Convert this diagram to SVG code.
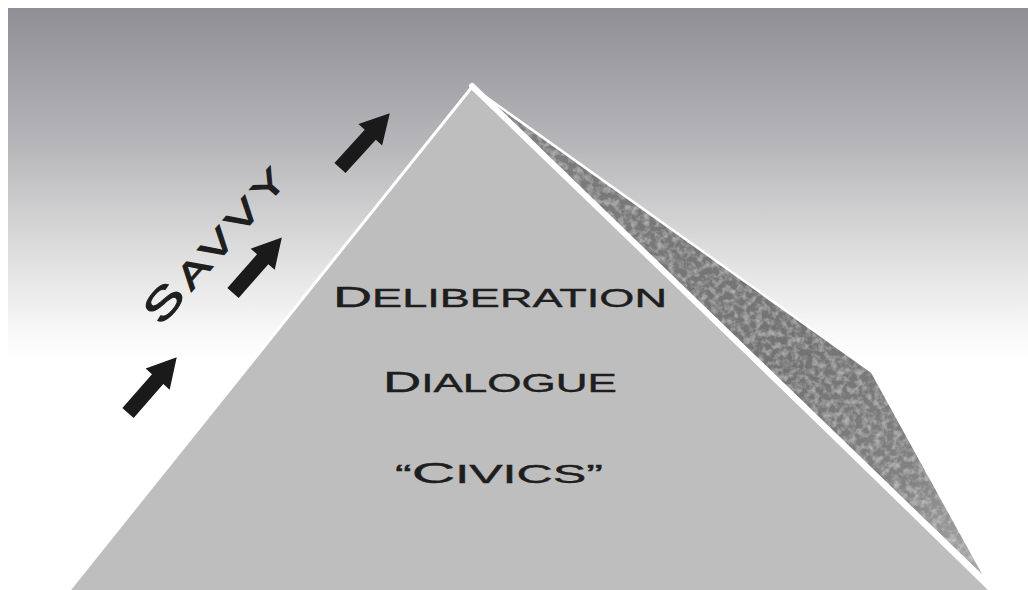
<svg xmlns="http://www.w3.org/2000/svg" width="1028" height="590" viewBox="0 0 1028 590">
<defs>
<linearGradient id="sky" gradientUnits="userSpaceOnUse" x1="0" y1="8" x2="0" y2="360">
<stop offset="0" stop-color="#8f8e94"/>
<stop offset="0.4" stop-color="#b8b8bb"/>
<stop offset="0.68" stop-color="#dcdcdc"/>
<stop offset="0.92" stop-color="#f8f8f8"/>
<stop offset="1" stop-color="#ffffff"/>
</linearGradient>
<linearGradient id="faceGrad" gradientUnits="userSpaceOnUse" x1="520" y1="120" x2="990" y2="585">
<stop offset="0" stop-color="#7c7c7c"/>
<stop offset="0.55" stop-color="#727272"/>
<stop offset="0.8" stop-color="#828282"/>
<stop offset="1" stop-color="#acacac"/>
</linearGradient>
<filter id="grain" x="0" y="0" width="1" height="1">
<feTurbulence type="fractalNoise" baseFrequency="0.16" numOctaves="3" seed="5" result="t"/>
<feColorMatrix in="t" type="matrix" values="0 0 0 0 1  0 0 0 0 1  0 0 0 0 1  0.7 0 0 0 -0.28" result="d"/>
<feComposite in="d" in2="SourceGraphic" operator="in" result="dm"/>
<feMerge><feMergeNode in="SourceGraphic"/><feMergeNode in="dm"/></feMerge>
</filter>
<path id="arrow" d="M0,-7.5 L45,-7.5 L45,-16 L74,0 L45,16 L45,7.5 L0,7.5 Z"/>
<style>
.lbl{font-family:"Liberation Sans",Arial,sans-serif;fill:#1e1e1e;stroke:#1e1e1e;stroke-width:0.4;font-size:25px;}
.big{font-size:30px;}
.sv{font-family:"Liberation Sans",Arial,sans-serif;fill:#1e1e1e;stroke:#1e1e1e;stroke-width:1;font-size:34px;letter-spacing:4px;}
.svbig{font-size:41px;}
.arr{fill:#1a1a1a;}
.edge{fill:none;stroke:#ffffff;stroke-linecap:round;stroke-linejoin:round;}
</style>
</defs>
<rect x="0" y="0" width="1028" height="590" fill="#ffffff"/>
<g id="background">
<rect x="8" y="8" width="1020" height="582" fill="url(#sky)"/>
</g>
<g id="face">
<polygon points="472,87 872,372 990,586" fill="url(#faceGrad)" filter="url(#grain)"/>
<polyline class="edge" points="472,87 872,372 990,586" stroke-width="2.5"/>
</g>
<g id="pyramid">
<polygon points="472,87 68,592 990,592" fill="#bebebe"/>
<line class="edge" x1="472" y1="87" x2="66" y2="594" stroke-width="3"/>
<line class="edge" x1="472" y1="86" x2="992" y2="588" stroke-width="6"/>
</g>
<g id="arrows">
<use href="#arrow" class="arr" transform="translate(128,413) rotate(-48.8)"/>
<use href="#arrow" class="arr" transform="translate(233,293) rotate(-48.7)"/>
<use href="#arrow" class="arr" transform="translate(340,168) rotate(-47.7)"/>
</g>
<g id="savvy">
<text class="sv" transform="translate(161,327) rotate(-49)" textLength="200" lengthAdjust="spacingAndGlyphs"><tspan class="svbig">S</tspan>AVVY</text>
</g>
<g id="deliberation">
<text class="lbl" x="333" y="307" textLength="334" lengthAdjust="spacingAndGlyphs"><tspan class="big">D</tspan>ELIBERATION</text>
</g>
<g id="dialogue">
<text class="lbl" x="383" y="392" textLength="234" lengthAdjust="spacingAndGlyphs"><tspan class="big">D</tspan>IALOGUE</text>
</g>
<g id="civics">
<text class="lbl" x="395" y="483" textLength="208" lengthAdjust="spacingAndGlyphs">“<tspan class="big">C</tspan>IVICS”</text>
</g>
</svg>
